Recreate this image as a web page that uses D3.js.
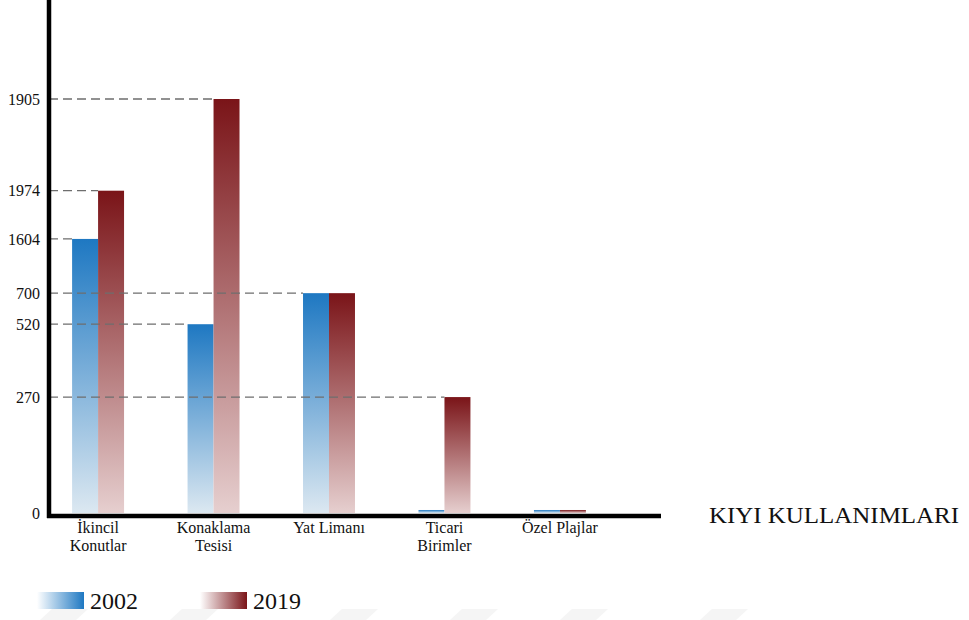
<!DOCTYPE html>
<html>
<head>
<meta charset="utf-8">
<script src="https://cdn.jsdelivr.net/npm/d3@7"></script>
<style>
  html, body { margin: 0; padding: 0; background: #fff; }
  svg { display: block; }
  text { font-family: "Liberation Serif", "DejaVu Serif", serif; fill: #111; }
</style>
</head>
<body>
<svg id="chart" width="969" height="620"></svg>
<script>
// Coastal use categories and the counts for the two survey years
const categories = ["İkincil Konutlar", "Konaklama Tesisi", "Yat Limanı", "Ticari Birimler", "Özel Plajlar"];
const categoryLines = [["İkincil", "Konutlar"], ["Konaklama", "Tesisi"], ["Yat Limanı"], ["Ticari", "Birimler"], ["Özel Plajlar"]];
const years = ["2002", "2019"];
const values2002 = [1604, 520, 700, 7, 7];
const values2019 = [1974, 1905, 700, 270, 7];
// Axis labels, bottom to top, as printed on the stepped value axis
const yTicks = [0, 270, 520, 700, 1604, 1974, 1905];
const axisTitle = "KIYI KULLANIMLARI";

const svg = d3.select("#chart");

// faint background stripes along the lower edge
const stripeX = [40, 170, 330, 450, 560, 700];
svg.append("g").selectAll("path").data(stripeX).join("path")
  .attr("d", d => `M${d},620 L${d + 12},609 L${d + 48},609 L${d + 36},620 Z`)
  .attr("fill", "#f5f5f5");

const baseY = 513;   // value zero
const topY = 99;     // highest axis stop
const axisX = 49;

// The value axis is stepped: every printed value has its own stop,
// placed as a share of the distance from zero to the highest stop.
const stopShare = d3.scaleOrdinal()
  .domain(yTicks)
  .range([0, 0.280, 0.456, 0.531, 0.662, 0.7785, 1]);
const lift = d3.scaleLinear().domain([0, 1]).range([baseY, topY]);
const yStop = d3.scaleOrdinal().domain(yTicks).range(yTicks.map(t => lift(stopShare(t))));
// Values that fall below the first step are read linearly inside it
const yLow = d3.scaleLinear().domain([yTicks[0], yTicks[1]]).range([yStop(yTicks[0]), yStop(yTicks[1])]);
const y = v => yTicks.includes(v) ? yStop(v) : yLow(v);

const x = d3.scaleBand().domain(categories).range([axisX, 609]).paddingInner(0.55).paddingOuter(0.2);
const xs = d3.scaleBand().domain(years).range([0, x.bandwidth()]);

// gradients: saturated at the bar top, pale at the base
const defs = svg.append("defs");
const palette = { "2002": ["#1e78c2", "#dce8f1"], "2019": ["#7a1418", "#e6cfcf"] };
years.forEach(yr => {
  const g = defs.append("linearGradient").attr("id", "bar" + yr)
    .attr("x1", 0).attr("y1", 0).attr("x2", 0).attr("y2", 1);
  g.append("stop").attr("offset", "0%").attr("stop-color", palette[yr][0]);
  g.append("stop").attr("offset", "100%").attr("stop-color", palette[yr][1]);
  const l = defs.append("linearGradient").attr("id", "key" + yr)
    .attr("x1", 0).attr("y1", 0).attr("x2", 1).attr("y2", 0);
  l.append("stop").attr("offset", "0%").attr("stop-color", palette[yr][0]).attr("stop-opacity", 0);
  l.append("stop").attr("offset", "100%").attr("stop-color", palette[yr][0]).attr("stop-opacity", 1);
});

// bars
const rows = [];
categories.forEach((c, i) => {
  rows.push({ cat: c, year: "2002", value: values2002[i] });
  rows.push({ cat: c, year: "2019", value: values2019[i] });
});
svg.append("g").selectAll("rect").data(rows).join("rect")
  .attr("x", d => x(d.cat) + xs(d.year))
  .attr("y", d => y(d.value))
  .attr("width", xs.bandwidth())
  .attr("height", d => baseY - y(d.value))
  .attr("fill", d => `url(#bar${d.year})`);

// dashed guides from the axis to the first bar that reaches each stop
const guides = yTicks.filter(t => t > 0).map(t => {
  const hit = rows.find(r => r.value === t);
  return { value: t, end: x(hit.cat) + xs(hit.year) };
});
svg.append("g").selectAll("line").data(guides).join("line")
  .attr("x1", axisX).attr("x2", d => d.end)
  .attr("y1", d => y(d.value)).attr("y2", d => y(d.value))
  .attr("stroke", "#6e6e6e").attr("stroke-width", 1.3)
  .attr("stroke-dasharray", "9,5");

// value axis labels
const yAxis = d3.axisLeft(yStop).tickSize(0).tickPadding(9);
const ya = svg.append("g").attr("transform", `translate(${axisX},0)`).call(yAxis);
ya.select(".domain").remove();
ya.selectAll("text").attr("font-family", "Liberation Serif, serif").attr("font-size", 16).attr("fill", "#111");

// axis lines
svg.append("line").attr("x1", axisX).attr("x2", axisX).attr("y1", 0).attr("y2", baseY + 5)
  .attr("stroke", "#000").attr("stroke-width", 4.5);
svg.append("line").attr("x1", axisX - 2).attr("x2", 661).attr("y1", baseY + 3).attr("y2", baseY + 3)
  .attr("stroke", "#000").attr("stroke-width", 4.5);

// category labels
const cl = svg.append("g").selectAll("text").data(categories).join("text")
  .attr("x", d => x(d) + x.bandwidth() / 2)
  .attr("y", 533)
  .attr("text-anchor", "middle")
  .attr("font-family", "Liberation Serif, serif")
  .attr("font-size", 16);
cl.each(function (d, i) {
  d3.select(this).selectAll("tspan").data(categoryLines[i]).join("tspan")
    .attr("x", x(d) + x.bandwidth() / 2)
    .attr("dy", (t, j) => j === 0 ? 0 : 18)
    .text(t => t);
});

// axis title
svg.append("text").attr("x", 709).attr("y", 523)
  .attr("font-family", "Liberation Serif, serif")
  .attr("font-size", 24).attr("textLength", 250).attr("lengthAdjust", "spacingAndGlyphs")
  .text(axisTitle);

// legend
const legendX = [37, 200];
const lg = svg.append("g").selectAll("g").data(years).join("g")
  .attr("transform", (d, i) => `translate(${legendX[i]},592)`);
lg.append("rect").attr("width", 47).attr("height", 17).attr("fill", d => `url(#key${d})`);
lg.append("text").attr("x", 53).attr("y", 16.5)
  .attr("font-family", "Liberation Serif, serif")
  .attr("font-size", 24).text(d => d);
</script>
</body>
</html>
